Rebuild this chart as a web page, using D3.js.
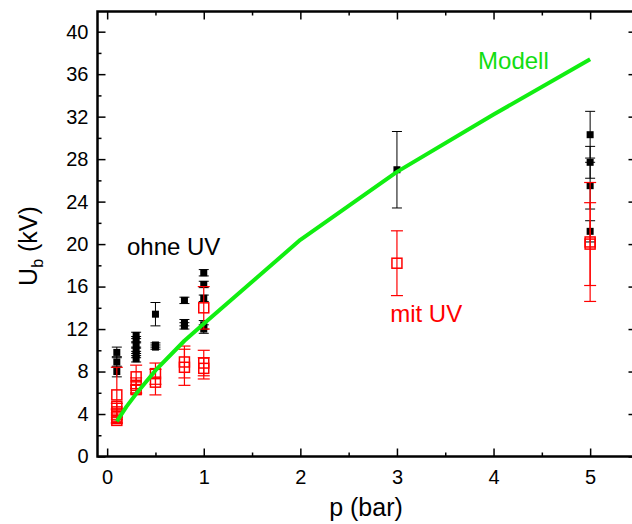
<!DOCTYPE html>
<html>
<head>
<meta charset="utf-8">
<script src="https://cdn.jsdelivr.net/npm/d3@7"></script>
<style>
  body { margin: 0; background: #fff; }
  svg text { font-family: Arial, "Liberation Sans", sans-serif; }
</style>
</head>
<body>
<div id="chart"></div>
<script>
// measured breakdown voltage, without UV (black)
var ohneP   = [0.1, 0.1, 0.1, 0.3, 0.3, 0.3, 0.3, 0.3, 0.3, 0.5, 0.5, 0.5, 0.8, 0.8, 0.8, 1, 1, 1, 1, 1, 3, 5, 5, 5, 5];
var ohneU   = [9.8, 8.9, 8.0, 11.4, 11.0, 10.5, 10.0, 9.6, 9.2, 13.4, 10.5, 10.3, 14.7, 12.6, 12.3, 17.3, 16.2, 14.9, 12.4, 12.0, 27.0, 30.3, 27.7, 25.5, 21.2];
var ohneErr = [0.5, 0.5, 0.5, 0.3, 0.3, 0.3, 0.3, 0.3, 0.3, 1.1, 0.2, 0.2, 0.3, 0.3, 0.3, 0.3, 0.3, 0.3, 0.4, 0.4, 3.6, 2.2, 1.5, 2.2, 1.0];

// with UV (red)
var mitP   = [0.1, 0.1, 0.1, 0.1, 0.1, 0.3, 0.3, 0.3, 0.5, 0.5, 0.8, 0.8, 1, 1, 1, 3, 5, 5];
var mitU   = [5.8, 4.7, 4.2, 3.8, 3.4, 7.5, 6.7, 6.3, 7.8, 7.0, 8.9, 8.4, 14.0, 8.8, 8.3, 18.2, 20.2, 20.0];
var mitErr = [2.6, 0.3, 0.3, 0.3, 0.3, 1.1, 0.7, 0.4, 1.0, 1.2, 1.5, 1.7, 2.0, 1.2, 1.0, 3.05, 5.6, 3.9];

// model curve
var modellP = [0.1, 0.2, 0.3, 0.5, 0.8, 1, 2, 3, 4, 5];
var modellU = [3.3, 4.7, 5.9, 8.1, 10.9, 12.5, 20.4, 26.8, 32.2, 37.4];

var xMajor = [0, 1, 2, 3, 4, 5];
var xMinor = [0.5, 1.5, 2.5, 3.5, 4.5];
var yMajor = [0, 4, 8, 12, 16, 20, 24, 28, 32, 36, 40];
var yMinor = [2, 6, 10, 14, 18, 22, 26, 30, 34, 38];

var width = 632, height = 524;
var svg = d3.select("#chart").append("svg")
  .attr("width", width)
  .attr("height", height);

var x = d3.scaleLinear().domain([-0.1, 5.48]).range([97.5, 636.5]);
var y = d3.scaleLinear().domain([0, 41.9]).range([456.5, 11.5]);

var x0 = x.range()[0], x1 = x.range()[1];
var y0 = y.range()[0], y1 = y.range()[1];

// axes, ticks pointing inward on all four sides
function styleAxis(g) {
  g.select(".domain").remove();
  g.selectAll(".tick line").attr("stroke", "#000").attr("stroke-width", 1.5);
  g.selectAll(".tick text").attr("font-size", 20).attr("fill", "#000");
}

svg.append("g").attr("transform", "translate(0," + y0 + ")")
  .call(d3.axisBottom(x).tickValues(xMajor).tickSize(-8).tickPadding(13).tickFormat(d3.format("d")))
  .call(styleAxis);
svg.append("g").attr("transform", "translate(0," + y0 + ")")
  .call(d3.axisBottom(x).tickValues(xMinor).tickSize(-4).tickFormat(""))
  .call(styleAxis);
svg.append("g").attr("transform", "translate(0," + y1 + ")")
  .call(d3.axisTop(x).tickValues(xMajor).tickSize(-8).tickFormat(""))
  .call(styleAxis);
svg.append("g").attr("transform", "translate(0," + y1 + ")")
  .call(d3.axisTop(x).tickValues(xMinor).tickSize(-4).tickFormat(""))
  .call(styleAxis);

svg.append("g").attr("transform", "translate(" + x0 + ",0)")
  .call(d3.axisLeft(y).tickValues(yMajor).tickSize(-8).tickPadding(9).tickFormat(d3.format("d")))
  .call(styleAxis);
svg.append("g").attr("transform", "translate(" + x0 + ",0)")
  .call(d3.axisLeft(y).tickValues(yMinor).tickSize(-4).tickFormat(""))
  .call(styleAxis);
svg.append("g").attr("transform", "translate(" + x1 + ",0)")
  .call(d3.axisRight(y).tickValues(yMajor).tickSize(-8).tickFormat(""))
  .call(styleAxis);
svg.append("g").attr("transform", "translate(" + x1 + ",0)")
  .call(d3.axisRight(y).tickValues(yMinor).tickSize(-4).tickFormat(""))
  .call(styleAxis);

// frame
svg.append("rect")
  .attr("x", x0).attr("y", y1)
  .attr("width", x1 - x0).attr("height", y0 - y1)
  .attr("fill", "none")
  .attr("stroke", "#000")
  .attr("stroke-width", 2.5);

// axis titles
svg.append("text")
  .attr("x", 366).attr("y", 516)
  .attr("text-anchor", "middle")
  .attr("font-size", 25)
  .text("p (bar)");

var yt = svg.append("text")
  .attr("transform", "translate(37," + 246 + ") rotate(-90)")
  .attr("text-anchor", "middle")
  .attr("font-size", 25);
yt.append("tspan").text("U");
yt.append("tspan").attr("font-size", 16).attr("dy", 6).text("b");
yt.append("tspan").attr("dy", -6).text(" (kV)");

// error bars + markers
function drawSeries(P, U, E, color, cap, sw) {
  var data = P.map(function(p, i) { return {p: p, u: U[i], e: E[i]}; });
  var g = svg.append("g");
  var bars = g.selectAll(".err").data(data).enter().append("g")
    .attr("stroke", color).attr("stroke-width", sw).attr("fill", "none");
  bars.append("line")
    .attr("x1", function(d) { return x(d.p); }).attr("x2", function(d) { return x(d.p); })
    .attr("y1", function(d) { return y(d.u + d.e); }).attr("y2", function(d) { return y(d.u - d.e); });
  bars.append("line")
    .attr("x1", function(d) { return x(d.p) - cap; }).attr("x2", function(d) { return x(d.p) + cap; })
    .attr("y1", function(d) { return y(d.u + d.e); }).attr("y2", function(d) { return y(d.u + d.e); });
  bars.append("line")
    .attr("x1", function(d) { return x(d.p) - cap; }).attr("x2", function(d) { return x(d.p) + cap; })
    .attr("y1", function(d) { return y(d.u - d.e); }).attr("y2", function(d) { return y(d.u - d.e); });
  return {g: g, data: data};
}

var black = drawSeries(ohneP, ohneU, ohneErr, "#000", 5, 1);
black.g.selectAll(".pt").data(black.data).enter().append("rect")
  .attr("x", function(d) { return x(d.p) - 3.5; })
  .attr("y", function(d) { return y(d.u) - 3.5; })
  .attr("width", 7).attr("height", 7)
  .attr("fill", "#000");

var red = drawSeries(mitP, mitU, mitErr, "#ff0000", 6, 1.2);
red.g.selectAll(".pt").data(red.data).enter().append("rect")
  .attr("x", function(d) { return x(d.p) - 5; })
  .attr("y", function(d) { return y(d.u) - 5; })
  .attr("width", 10).attr("height", 10)
  .attr("fill", "none")
  .attr("stroke", "#ff0000")
  .attr("stroke-width", 1.5);

// model line
var modell = modellP.map(function(p, i) { return [p, modellU[i]]; });
svg.append("path")
  .datum(modell)
  .attr("fill", "none")
  .attr("stroke", "#11ee11")
  .attr("stroke-width", 4)
  .attr("stroke-linejoin", "round")
  .attr("d", d3.line().x(function(d) { return x(d[0]); }).y(function(d) { return y(d[1]); }));

// labels
svg.append("text").attr("x", x(3.84)).attr("y", y(36.5))
  .attr("font-size", 24).attr("fill", "#11dd11").text("Modell");
svg.append("text").attr("x", x(0.205)).attr("y", y(19.0))
  .attr("font-size", 24).attr("fill", "#000").text("ohne UV");
svg.append("text").attr("x", x(2.93)).attr("y", y(12.7))
  .attr("font-size", 24).attr("fill", "#ff0000").text("mit UV");
</script>
</body>
</html>
